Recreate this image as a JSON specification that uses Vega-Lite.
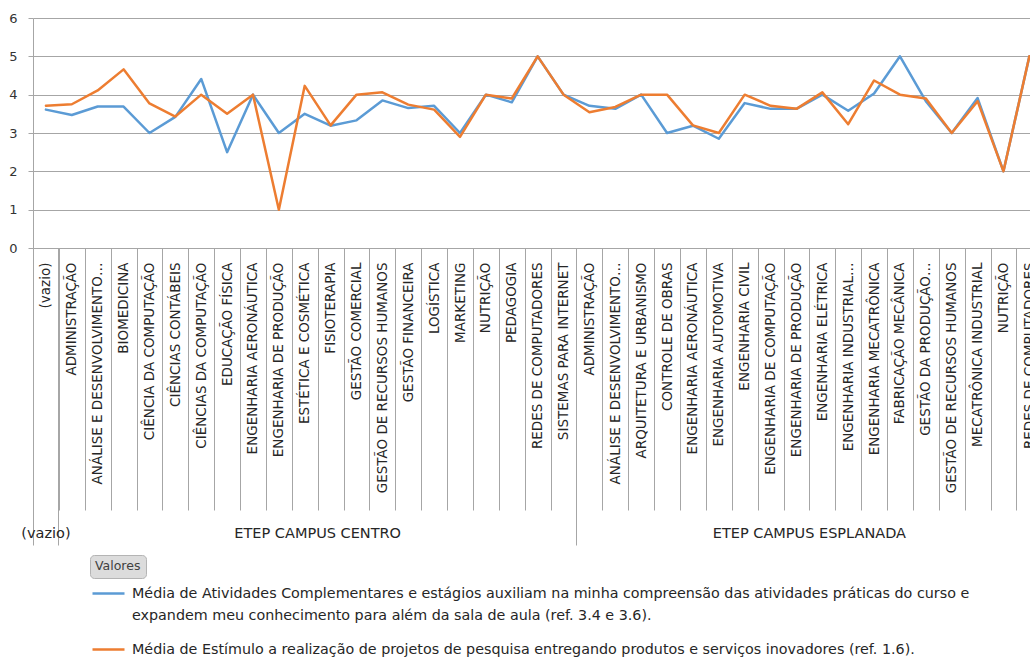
{
  "$schema": "https://vega.github.io/schema/vega-lite/v6.json",
  "width": 997,
  "height": 230,
  "autosize": {"type": "none"},
  "padding": {"left": 33, "top": 18, "right": 0, "bottom": 409},
  "background": "white",
  "config": {
    "view": {"stroke": null},
    "font": "DejaVu Sans",
    "style": {"guide-label": {"lineHeight": 22}}
  },
  "data": {
    "values": [
      {"cat": "01|(vazio)", "s": "A", "v": 3.61}, {"cat": "01|(vazio)", "s": "B", "v": 3.71},
      {"cat": "02|ADMINISTRAÇÃO", "s": "A", "v": 3.47}, {"cat": "02|ADMINISTRAÇÃO", "s": "B", "v": 3.75},
      {"cat": "03|ANÁLISE E DESENVOLVIMENTO…", "s": "A", "v": 3.69}, {"cat": "03|ANÁLISE E DESENVOLVIMENTO…", "s": "B", "v": 4.11},
      {"cat": "04|BIOMEDICINA", "s": "A", "v": 3.69}, {"cat": "04|BIOMEDICINA", "s": "B", "v": 4.66},
      {"cat": "05|CIÊNCIA DA COMPUTAÇÃO", "s": "A", "v": 3.0}, {"cat": "05|CIÊNCIA DA COMPUTAÇÃO", "s": "B", "v": 3.77},
      {"cat": "06|CIÊNCIAS CONTÁBEIS", "s": "A", "v": 3.42}, {"cat": "06|CIÊNCIAS CONTÁBEIS", "s": "B", "v": 3.43},
      {"cat": "07|CIÊNCIAS DA COMPUTAÇÃO", "s": "A", "v": 4.41}, {"cat": "07|CIÊNCIAS DA COMPUTAÇÃO", "s": "B", "v": 4.0},
      {"cat": "08|EDUCAÇÃO FÍSICA", "s": "A", "v": 2.5}, {"cat": "08|EDUCAÇÃO FÍSICA", "s": "B", "v": 3.5},
      {"cat": "09|ENGENHARIA AERONÁUTICA", "s": "A", "v": 4.0}, {"cat": "09|ENGENHARIA AERONÁUTICA", "s": "B", "v": 4.0},
      {"cat": "10|ENGENHARIA DE PRODUÇÃO", "s": "A", "v": 3.0}, {"cat": "10|ENGENHARIA DE PRODUÇÃO", "s": "B", "v": 1.0},
      {"cat": "11|ESTÉTICA E COSMÉTICA", "s": "A", "v": 3.5}, {"cat": "11|ESTÉTICA E COSMÉTICA", "s": "B", "v": 4.23},
      {"cat": "12|FISIOTERAPIA", "s": "A", "v": 3.19}, {"cat": "12|FISIOTERAPIA", "s": "B", "v": 3.2},
      {"cat": "13|GESTÃO COMERCIAL", "s": "A", "v": 3.33}, {"cat": "13|GESTÃO COMERCIAL", "s": "B", "v": 4.0},
      {"cat": "14|GESTÃO DE RECURSOS HUMANOS", "s": "A", "v": 3.85}, {"cat": "14|GESTÃO DE RECURSOS HUMANOS", "s": "B", "v": 4.06},
      {"cat": "15|GESTÃO FINANCEIRA", "s": "A", "v": 3.65}, {"cat": "15|GESTÃO FINANCEIRA", "s": "B", "v": 3.74},
      {"cat": "16|LOGÍSTICA", "s": "A", "v": 3.71}, {"cat": "16|LOGÍSTICA", "s": "B", "v": 3.61},
      {"cat": "17|MARKETING", "s": "A", "v": 3.0}, {"cat": "17|MARKETING", "s": "B", "v": 2.9},
      {"cat": "18|NUTRIÇÃO", "s": "A", "v": 4.0}, {"cat": "18|NUTRIÇÃO", "s": "B", "v": 4.0},
      {"cat": "19|PEDAGOGIA", "s": "A", "v": 3.8}, {"cat": "19|PEDAGOGIA", "s": "B", "v": 3.9},
      {"cat": "20|REDES DE COMPUTADORES", "s": "A", "v": 5.0}, {"cat": "20|REDES DE COMPUTADORES", "s": "B", "v": 5.0},
      {"cat": "21|SISTEMAS PARA INTERNET", "s": "A", "v": 4.0}, {"cat": "21|SISTEMAS PARA INTERNET", "s": "B", "v": 4.0},
      {"cat": "22|ADMINISTRAÇÃO", "s": "A", "v": 3.71}, {"cat": "22|ADMINISTRAÇÃO", "s": "B", "v": 3.54},
      {"cat": "23|ANÁLISE E DESENVOLVIMENTO…", "s": "A", "v": 3.63}, {"cat": "23|ANÁLISE E DESENVOLVIMENTO…", "s": "B", "v": 3.68},
      {"cat": "24|ARQUITETURA E URBANISMO", "s": "A", "v": 4.0}, {"cat": "24|ARQUITETURA E URBANISMO", "s": "B", "v": 4.0},
      {"cat": "25|CONTROLE DE OBRAS", "s": "A", "v": 3.0}, {"cat": "25|CONTROLE DE OBRAS", "s": "B", "v": 4.0},
      {"cat": "26|ENGENHARIA AERONÁUTICA", "s": "A", "v": 3.19}, {"cat": "26|ENGENHARIA AERONÁUTICA", "s": "B", "v": 3.2},
      {"cat": "27|ENGENHARIA AUTOMOTIVA", "s": "A", "v": 2.85}, {"cat": "27|ENGENHARIA AUTOMOTIVA", "s": "B", "v": 3.0},
      {"cat": "28|ENGENHARIA CIVIL", "s": "A", "v": 3.78}, {"cat": "28|ENGENHARIA CIVIL", "s": "B", "v": 4.0},
      {"cat": "29|ENGENHARIA DE COMPUTAÇÃO", "s": "A", "v": 3.63}, {"cat": "29|ENGENHARIA DE COMPUTAÇÃO", "s": "B", "v": 3.71},
      {"cat": "30|ENGENHARIA DE PRODUÇÃO", "s": "A", "v": 3.63}, {"cat": "30|ENGENHARIA DE PRODUÇÃO", "s": "B", "v": 3.63},
      {"cat": "31|ENGENHARIA ELÉTRICA", "s": "A", "v": 4.0}, {"cat": "31|ENGENHARIA ELÉTRICA", "s": "B", "v": 4.06},
      {"cat": "32|ENGENHARIA INDUSTRIAL…", "s": "A", "v": 3.58}, {"cat": "32|ENGENHARIA INDUSTRIAL…", "s": "B", "v": 3.23},
      {"cat": "33|ENGENHARIA MECATRÔNICA", "s": "A", "v": 4.03}, {"cat": "33|ENGENHARIA MECATRÔNICA", "s": "B", "v": 4.37},
      {"cat": "34|FABRICAÇÃO MECÂNICA", "s": "A", "v": 5.0}, {"cat": "34|FABRICAÇÃO MECÂNICA", "s": "B", "v": 4.0},
      {"cat": "35|GESTÃO DA PRODUÇÃO…", "s": "A", "v": 3.83}, {"cat": "35|GESTÃO DA PRODUÇÃO…", "s": "B", "v": 3.9},
      {"cat": "36|GESTÃO DE RECURSOS HUMANOS", "s": "A", "v": 3.0}, {"cat": "36|GESTÃO DE RECURSOS HUMANOS", "s": "B", "v": 3.0},
      {"cat": "37|MECATRÔNICA INDUSTRIAL", "s": "A", "v": 3.91}, {"cat": "37|MECATRÔNICA INDUSTRIAL", "s": "B", "v": 3.83},
      {"cat": "38|NUTRIÇÃO", "s": "A", "v": 2.0}, {"cat": "38|NUTRIÇÃO", "s": "B", "v": 2.0},
      {"cat": "39|REDES DE COMPUTADORES", "s": "A", "v": 5.0}, {"cat": "39|REDES DE COMPUTADORES", "s": "B", "v": 5.0}
    ]
  },
  "layer": [
    {
      "mark": {"type": "line", "strokeWidth": 2.5, "strokeJoin": "round", "strokeCap": "round"},
      "encoding": {
        "x": {
          "field": "cat", "type": "nominal", "sort": "ascending", "bandPosition": 0.5,
          "scale": {"type": "band", "range": [0, 1009.3], "paddingInner": 0, "paddingOuter": 0},
          "axis": {
            "orient": "bottom", "title": null, "grid": false,
            "tickBand": "extent", "tickSize": 262, "tickColor": "#a6a6a6", "tickWidth": 1,
            "domain": true, "domainColor": "#a6a6a6", "domainWidth": 1,
            "labelExpr": "split(datum.value, '|')[1]",
            "labelAngle": 270, "labelAlign": "right", "labelBaseline": "middle",
            "labelPadding": -248, "labelFont": "DejaVu Sans", "labelFontSize": 13.5,
            "labelColor": "#262626", "labelLimit": 400, "labelOverlap": false, "labelBound": false
          }
        },
        "y": {
          "field": "v", "type": "quantitative",
          "scale": {"domain": [0, 6], "nice": false},
          "axis": {
            "title": null, "values": [0, 1, 2, 3, 4, 5, 6],
            "grid": true, "gridColor": "#a6a6a6", "gridWidth": 1,
            "domain": true, "domainColor": "#a6a6a6",
            "ticks": true, "tickSize": 5, "tickColor": "#a6a6a6",
            "labelPadding": 11, "labelFont": "DejaVu Sans", "labelFontSize": 13, "labelColor": "#333333"
          }
        },
        "color": {
          "field": "s", "type": "nominal",
          "scale": {"domain": ["A", "B"], "range": ["#5b9bd5", "#ed7d31"]},
          "legend": {
            "orient": "none", "legendX": 58, "legendY": 558, "direction": "vertical", "padding": 0,
            "title": null,
            "symbolType": "stroke", "symbolSize": 1024, "symbolStrokeWidth": 2.5,
            "labelOffset": 6, "labelFont": "DejaVu Sans", "labelFontSize": 14.3, "labelColor": "#262626",
            "labelLimit": 1000, "labelBaseline": "middle", "rowPadding": 9,
            "labelExpr": "datum.value === 'A' ? ['Média de Atividades Complementares e estágios auxiliam na minha compreensão das atividades práticas do curso e', 'expandem meu conhecimento para além da sala de aula (ref. 3.4 e 3.6).'] : 'Média de Estímulo a realização de projetos de pesquisa entregando produtos e serviços inovadores (ref. 1.6).'"
          }
        }
      }
    },
    {
      "mark": {"type": "point", "opacity": 0},
      "encoding": {
        "x": {
          "field": "cat", "type": "nominal", "sort": "ascending",
          "axis": {
            "orient": "bottom", "title": null, "grid": false,
            "values": ["01|(vazio)", "02|ADMINISTRAÇÃO", "22|ADMINISTRAÇÃO"],
            "bandPosition": 0, "tickExtra": false,
            "tickSize": 297, "tickColor": "#a6a6a6", "tickWidth": 1,
            "labels": false, "domain": false
          }
        },
        "shape": {
          "field": "s", "type": "nominal",
          "legend": {
            "orient": "none", "legendX": 57, "legendY": 537, "values": [],
            "title": "Valores", "titleFont": "DejaVu Sans", "titleFontSize": 12.5, "titleFontWeight": "normal",
            "titleColor": "#404040", "titlePadding": 0, "padding": 5,
            "fillColor": "#dcdcdc", "strokeColor": "#b4b4b4", "cornerRadius": 4
          }
        }
      }
    },
    {
      "mark": {"type": "point", "opacity": 0},
      "encoding": {
        "x": {
          "field": "cat", "type": "nominal", "sort": "ascending",
          "axis": {
            "orient": "bottom", "title": null, "grid": false,
            "values": ["01|(vazio)", "11|ESTÉTICA E COSMÉTICA", "30|ENGENHARIA DE PRODUÇÃO"],
            "ticks": false, "domain": false,
            "labelExpr": "datum.value === '01|(vazio)' ? '(vazio)' : (indexof(datum.value, '11|') === 0 ? 'ETEP CAMPUS CENTRO' : 'ETEP CAMPUS ESPLANADA')",
            "labelAngle": 0, "labelAlign": "center", "labelBaseline": "middle",
            "labelPadding": 285, "labelFont": "DejaVu Sans", "labelFontSize": 14.5, "labelColor": "#262626",
            "labelOffset": {"condition": {"test": "datum.value === '01|(vazio)'", "value": 0}, "value": 12.94},
            "labelOverlap": false, "labelLimit": 400, "labelBound": false
          }
        }
      }
    }
  ],
  "resolve": {"axis": {"x": "independent"}}
}
